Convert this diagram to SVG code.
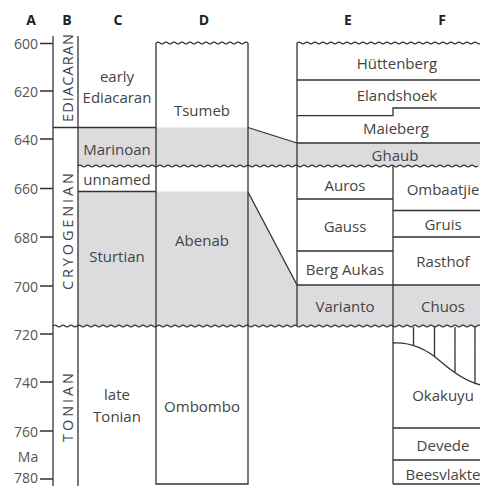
<svg xmlns="http://www.w3.org/2000/svg" width="480" height="486" viewBox="0 0 480 486">
<style>
.bg{fill:#ffffff}
.ln{stroke:#333;stroke-width:1.3;fill:none}
.g{fill:#dcdcde}
.t{font-family:"Open Sans","Liberation Sans",sans-serif;font-size:15px;fill:#444;text-anchor:middle}
.h{font-family:"Open Sans","Liberation Sans",sans-serif;font-size:14px;font-weight:bold;fill:#222;text-anchor:middle}
.n{font-family:"Open Sans","Liberation Sans",sans-serif;font-size:14px;fill:#555;text-anchor:end}
.v{font-family:"Open Sans","Liberation Sans",sans-serif;font-size:14.5px;fill:#444;text-anchor:middle}
</style>
<rect class="bg" x="0" y="0" width="480" height="486"/>

<g id="headers">
<text class="h" x="31" y="25">A</text>
<text class="h" x="67" y="25">B</text>
<text class="h" x="118" y="25">C</text>
<text class="h" x="204" y="25">D</text>
<text class="h" x="348" y="25">E</text>
<text class="h" x="442" y="25">F</text>
</g>

<g id="axis">
<line class="ln" x1="53" y1="36" x2="53" y2="486"/>
<path class="ln" d="M40,43.5H53M40,91H53M40,139H53M40,188.5H53M40,237H53M40,286H53M40,334H53M40,382H53M40,431H53M40,479H53"/>
<text class="n" x="38" y="49">600</text>
<text class="n" x="38" y="96.5">620</text>
<text class="n" x="38" y="144.5">640</text>
<text class="n" x="38" y="194">660</text>
<text class="n" x="38" y="242.5">680</text>
<text class="n" x="38" y="291.5">700</text>
<text class="n" x="38" y="339.5">720</text>
<text class="n" x="38" y="387.5">740</text>
<text class="n" x="38" y="436.5">760</text>
<text class="n" x="28" y="461.5" style="text-anchor:middle">Ma</text>
<text class="n" x="38" y="483">780</text>
</g>

<g id="fills">
<rect class="g" x="78" y="127.5" width="78" height="38.5"/>
<rect class="g" x="156" y="127.5" width="92" height="38.5"/>
<polygon class="g" points="248,127.5 297,143 297,166 248,166"/>
<rect class="g" x="297" y="143" width="183" height="23"/>
<rect class="g" x="78" y="191.5" width="78" height="134.5"/>
<rect class="g" x="156" y="191.5" width="92" height="134.5"/>
<polygon class="g" points="248,192 297,285 297,326 248,326"/>
<rect class="g" x="297" y="285" width="96" height="41"/>
<rect class="g" x="393" y="285" width="87" height="41"/>
</g>

<g id="periods">
<line class="ln" x1="78" y1="36" x2="78" y2="486"/>
<line class="ln" x1="53" y1="127.5" x2="156" y2="127.5"/>
<text class="v" transform="translate(72.5,78) rotate(-90)" textLength="88" lengthAdjust="spacing">EDIACARAN</text>
<text class="v" transform="translate(72.5,231.5) rotate(-90)" textLength="117" lengthAdjust="spacing">CRYOGENIAN</text>
<text class="v" transform="translate(72.5,407.5) rotate(-90)" textLength="69" lengthAdjust="spacing">TONIAN</text>
</g>

<g id="epochs">
<line class="ln" x1="78" y1="191.5" x2="156" y2="191.5"/>
<text class="t" x="117" y="81.5">early</text>
<text class="t" x="117" y="102.5">Ediacaran</text>
<text class="t" x="117" y="155">Marinoan</text>
<text class="t" x="117" y="185">unnamed</text>
<text class="t" x="117" y="261.5">Sturtian</text>
<text class="t" x="117" y="400">late</text>
<text class="t" x="117" y="421.5">Tonian</text>
</g>

<g id="col-D">
<path class="ln" d="M156,43V484H248V43"/>
<path class="ln" d="M156,43q2,-1.6 4,0t4,0t4,0t4,0t4,0t4,0t4,0t4,0t4,0t4,0t4,0t4,0t4,0t4,0t4,0t4,0t4,0t4,0t4,0t4,0t4,0t4,0t4,0"/>
<text class="t" x="202" y="115.5">Tsumeb</text>
<text class="t" x="202" y="246">Abenab</text>
<text class="t" x="202" y="411.5">Ombombo</text>
</g>

<g id="col-EF-upper">
<line class="ln" x1="297" y1="43" x2="297" y2="326"/>
<path class="ln" d="M297,43q2,-1.6 4,0t4,0t4,0t4,0t4,0t4,0t4,0t4,0t4,0t4,0t4,0t4,0t4,0t4,0t4,0t4,0t4,0t4,0t4,0t4,0t4,0t4,0t4,0t4,0t4,0t4,0t4,0t4,0t4,0t4,0t4,0t4,0t4,0t4,0t4,0t4,0t4,0t4,0t4,0t4,0t4,0t4,0t4,0t4,0t4,0t4,0t4,0"/>
<path class="ln" d="M297,80H480M297,115.7H393V108H480M297,143H480"/>
<text class="t" x="397" y="69.3">Hüttenberg</text>
<text class="t" x="397" y="101">Elandshoek</text>
<text class="t" x="396" y="134.3">Maieberg</text>
<text class="t" x="395" y="161">Ghaub</text>
</g>

<g id="col-E">
<path class="ln" d="M297,199H393M297,251H393M297,285H393"/>
<text class="t" x="345" y="190.7">Auros</text>
<text class="t" x="345" y="231.7">Gauss</text>
<text class="t" x="345" y="275">Berg Aukas</text>
<text class="t" x="345" y="311.7">Varianto</text>
</g>

<g id="col-F">
<line class="ln" x1="393" y1="166" x2="393" y2="484"/>
<path class="ln" d="M393,210.5H480M393,237H480M393,285H480M393,428H480M393,460H480M393,484H480"/>
<path class="ln" d="M393,343C410,342 425,348 440,361C455,374 467,382 481,385"/>
<path class="ln" d="M413.5,327V345.3M434.5,327V356.5M455,327V372M475,327V383"/>
<text class="t" x="443" y="195">Ombaatjie</text>
<text class="t" x="443" y="230">Gruis</text>
<text class="t" x="443" y="266.7">Rasthof</text>
<text class="t" x="443" y="311.7">Chuos</text>
<text class="t" x="443" y="401">Okakuyu</text>
<text class="t" x="443" y="451">Devede</text>
<text class="t" x="443" y="480">Beesvlakte</text>
</g>

<g id="unconformities">
<path class="ln" d="M78,166q2,-1.6 4,0t4,0t4,0t4,0t4,0t4,0t4,0t4,0t4,0t4,0t4,0t4,0t4,0t4,0t4,0t4,0t4,0t4,0t4,0t4,0t4,0t4,0t4,0t4,0t4,0t4,0t4,0t4,0t4,0t4,0t4,0t4,0t4,0t4,0t4,0t4,0t4,0t4,0t4,0t4,0t4,0t4,0t4,0t4,0t4,0t4,0t4,0t4,0t4,0t4,0t4,0t4,0t4,0t4,0t4,0t4,0t4,0t4,0t4,0t4,0t4,0t4,0t4,0t4,0t4,0t4,0t4,0t4,0t4,0t4,0t4,0t4,0t4,0t4,0t4,0t4,0t4,0t4,0t4,0t4,0t4,0t4,0t4,0t4,0t4,0t4,0t4,0t4,0t4,0t4,0t4,0t4,0t4,0t4,0t4,0t4,0t4,0t4,0t4,0t4,0"/>
<path class="ln" d="M53,326q2,-1.6 4,0t4,0t4,0t4,0t4,0t4,0t4,0t4,0t4,0t4,0t4,0t4,0t4,0t4,0t4,0t4,0t4,0t4,0t4,0t4,0t4,0t4,0t4,0t4,0t4,0t4,0t4,0t4,0t4,0t4,0t4,0t4,0t4,0t4,0t4,0t4,0t4,0t4,0t4,0t4,0t4,0t4,0t4,0t4,0t4,0t4,0t4,0t4,0t4,0t4,0t4,0t4,0t4,0t4,0t4,0t4,0t4,0t4,0t4,0t4,0t4,0t4,0t4,0t4,0t4,0t4,0t4,0t4,0t4,0t4,0t4,0t4,0t4,0t4,0t4,0t4,0t4,0t4,0t4,0t4,0t4,0t4,0t4,0t4,0t4,0t4,0t4,0t4,0t4,0t4,0t4,0t4,0t4,0t4,0t4,0t4,0t4,0t4,0t4,0t4,0t4,0t4,0t4,0t4,0t4,0t4,0t4,0"/>
</g>

<g id="connectors">
<line class="ln" x1="248" y1="127.5" x2="297" y2="143"/>
<line class="ln" x1="248" y1="192" x2="297" y2="285"/>
</g>
</svg>
